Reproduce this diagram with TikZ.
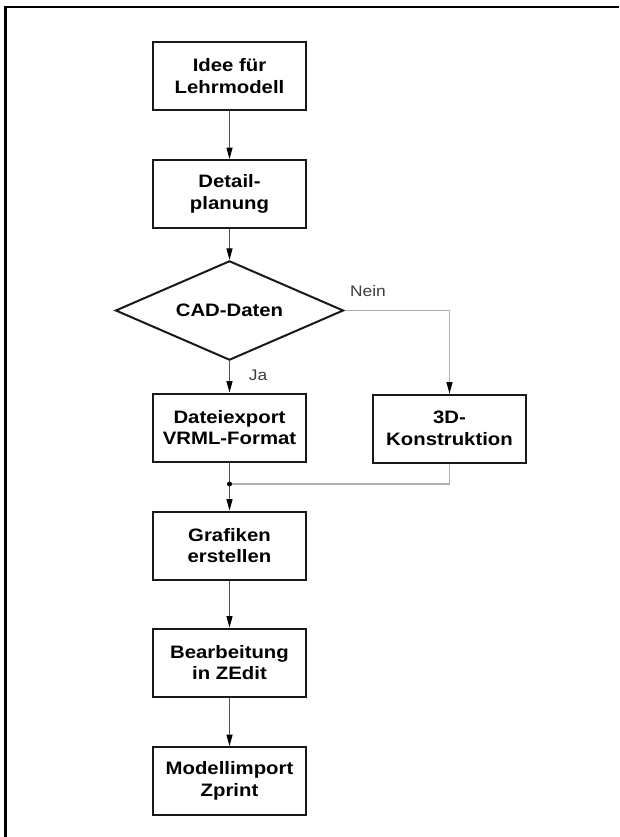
\documentclass[tikz,border=0pt]{standalone}
\usepackage{fontspec}
\setmainfont{Liberation Sans}[FakeStretch=1.13]
\usepackage{tikz}
\usetikzlibrary{shapes.geometric}
\usetikzlibrary{arrows.meta}
\definecolor{flowgray}{RGB}{85,85,85}
\definecolor{sidegray}{RGB}{175,175,175}
\definecolor{labelgray}{RGB}{60,60,60}

\begin{document}
\begin{tikzpicture}[x=0.75pt,y=-0.75pt,
  box/.style={draw=black!90,line width=1.5pt,minimum width=115pt,minimum height=51pt,
    align=center,font=\fontsize{13.5}{16.3}\selectfont\bfseries,inner sep=2pt},
  decision/.style={diamond,draw=black!90,line width=1.5pt,minimum width=171pt,minimum height=74.5pt,
    aspect=2.28,inner sep=1pt,font=\fontsize{13.5}{16.3}\selectfont\bfseries},
  flow/.style={draw=flowgray,line width=0.7pt,-{Triangle[length=8.5pt,width=4.5pt,black]}},
  side/.style={draw=sidegray,line width=0.9pt},
  answer/.style={text=labelgray,font=\fontsize{11.5}{13}\selectfont}]
  \useasboundingbox (0,0) rectangle (619,837);
  % frame
  \draw [line width=2pt] (619,7) -- (5.5,7) -- (5.5,837);
  % steps
  \node [box] (idea) at (229.5,76) {Idee für\\Lehrmodell};
  \node [box] (plan) at (229.5,194) {Detail-\\planung};
  \node [decision] (cad) at (229.5,310.5) {CAD-Daten};
  \node [box] (export) at (229.5,427.5) {Dateiexport\\VRML-Format};
  \node [box] (constr) at (449.5,428.5) {3D-\\Konstruktion};
  \node [box] (graph) at (229.5,545.5) {Grafiken\\erstellen};
  \node [box] (edit) at (229.5,662.5) {Bearbeitung\\in ZEdit};
  \node [box] (import) at (229.5,781) {Modellimport\\Zprint};
  \coordinate (jn) at (229.5,484);
  % connectors
  \draw [flow] (idea) -- (plan);
  \draw [flow] (plan) -- (cad);
  \draw [flow] (cad) -- (export);
  \draw [side] (cad.east) -| (constr.north);
  \draw [flow] (constr.north) ++(0,-1) -- (constr.north);
  \draw [flow] (export) -- (graph);
  \draw [side] (constr.south) |- (jn);
  \draw [fill] (jn) circle [radius=1.6pt];
  \draw [flow] (graph) -- (edit);
  \draw [flow] (edit) -- (import);
  \node [answer] (no) at (368,291) {Nein};
  \node [answer] (yes) at (258,375) {Ja};
\end{tikzpicture}
\end{document}
